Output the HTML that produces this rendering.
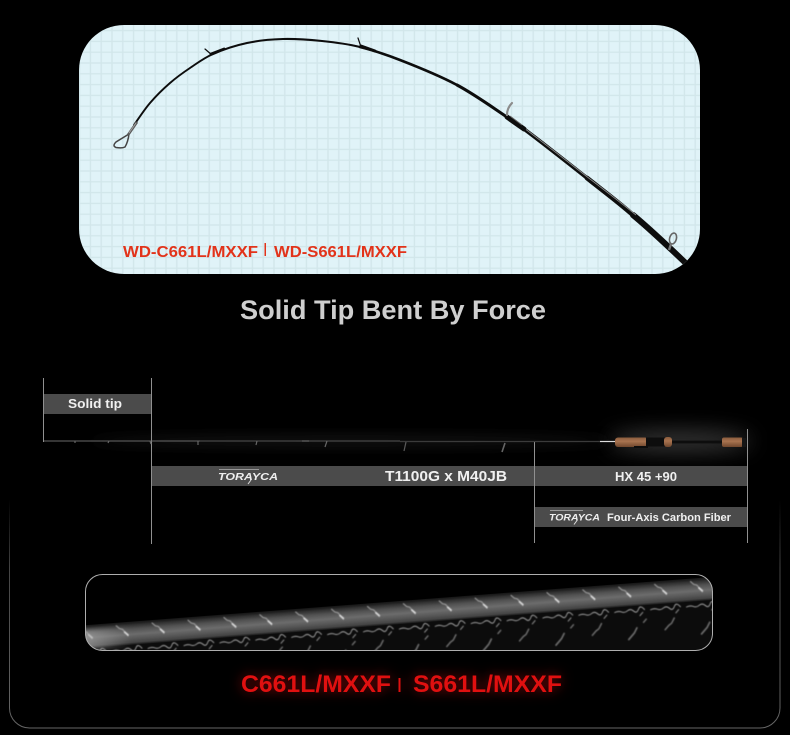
<!DOCTYPE html>
<html lang="en">
<head>
<meta charset="utf-8">
<title>Solid Tip Bent By Force</title>
<style>
html,body{margin:0;padding:0;background:#000;width:790px;height:735px;overflow:hidden}
svg{display:block}
text{font-family:"Liberation Sans",Arial,sans-serif;font-weight:700}
</style>
</head>
<body>
<svg width="790" height="735" viewBox="0 0 790 735" xmlns="http://www.w3.org/2000/svg">
<defs>
  <pattern id="grid" x="85" y="36" width="10.8" height="10.8" patternUnits="userSpaceOnUse">
    <rect width="10.8" height="10.8" fill="#e0f3f8"/>
    <path d="M5.4 0V10.8M0 5.4H10.8" stroke="#d1e6ea" stroke-width="1.3" fill="none"/>
  </pattern>
  <clipPath id="panelClip"><rect x="79" y="25" width="621" height="249" rx="45"/></clipPath>
  <clipPath id="bandClip"><rect x="85.5" y="574.5" width="627" height="76" rx="17"/></clipPath>
  <filter id="b03" x="-5%" y="-20%" width="110%" height="140%"><feGaussianBlur stdDeviation="0.35"/></filter>
  <filter id="b05" x="-5%" y="-20%" width="110%" height="140%"><feGaussianBlur stdDeviation="0.55"/></filter>
  <filter id="b1" x="-20%" y="-30%" width="140%" height="160%"><feGaussianBlur stdDeviation="2"/></filter>
  <filter id="b12" x="-40%" y="-300%" width="180%" height="700%"><feGaussianBlur stdDeviation="11"/></filter>
  <filter id="b6" x="-10%" y="-400%" width="120%" height="900%"><feGaussianBlur stdDeviation="6"/></filter>
  <linearGradient id="frameG" gradientUnits="userSpaceOnUse" x1="0" y1="500" x2="0" y2="728">
    <stop offset="0" stop-color="#444" stop-opacity="0"/>
    <stop offset=".3" stop-color="#444"/>
    <stop offset="1" stop-color="#666"/>
  </linearGradient>
  <linearGradient id="lightBand" x1="0" y1="0" x2="0" y2="1">
    <stop offset="0" stop-color="#141414"/>
    <stop offset=".3" stop-color="#4f4f4f"/>
    <stop offset=".55" stop-color="#6c6c6c"/>
    <stop offset=".9" stop-color="#454545"/>
    <stop offset="1" stop-color="#161616"/>
  </linearGradient>
  <linearGradient id="leftFade" x1="0" y1="0" x2="1" y2="0">
    <stop offset="0" stop-color="#aaa" stop-opacity=".8"/>
    <stop offset="1" stop-color="#aaa" stop-opacity="0"/>
  </linearGradient>
  <linearGradient id="cork" x1="0" y1="0" x2="0" y2="1">
    <stop offset="0" stop-color="#8a5c3d"/>
    <stop offset=".4" stop-color="#a87350"/>
    <stop offset="1" stop-color="#70472c"/>
  </linearGradient>
  <pattern id="weave" x="0" y="601" width="36" height="60" patternUnits="userSpaceOnUse">
    <g fill="none" stroke-linecap="round">
      <path d="M8 3l3 3 3 1 3 4 2 3" stroke="#9c9c9c" stroke-width="1.1"/>
      <path d="M16 10l3 3" stroke="#d8d8d8" stroke-width="1.8"/>
      <path d="M2 28q4-1.5 7 0t6-.8 6 .8 5-1.5 6 .8" stroke="#a8a8a8" stroke-width=".9"/>
      <path d="M27 33l3-3" stroke="#8a8a8a" stroke-width="1.1"/>
    </g>
  </pattern>
  <pattern id="weave2" x="0" y="601" width="73" height="60" patternUnits="userSpaceOnUse">
    <g fill="none" stroke-linecap="round" stroke="#6c6c6c">
      <path d="M6 49l4-4 3-2 3-5" stroke-width="1.5"/>
      <path d="M42 56l4-4 2-2 3-5" stroke-width="1.7"/>
      <path d="M58 40l3-3" stroke-width="1.4"/>
    </g>
  </pattern>
</defs>

<!-- outer frame -->
<path d="M9.5 500V708a20 20 0 0 0 20 20H760a20 20 0 0 0 20-20V500" fill="none" stroke="url(#frameG)"/>

<!-- bent rod panel -->
<rect x="79" y="25" width="621" height="249" rx="45" fill="url(#grid)"/>
<g clip-path="url(#panelClip)">
  <g fill="none" stroke="#0a0a0a" stroke-linecap="round" filter="url(#b03)">
    <path d="M134 125C136.7 121.3 144 110 150 103C156 96 163.3 88.8 170 83C176.7 77.2 182.8 72.8 190 68C197.2 63.2 203.5 58.2 213 54" stroke-width="1.9"/>
    <path d="M213 54C222.5 49.8 235.3 45.5 247 43C258.7 40.5 270.5 39.3 283 39C295.5 38.7 309.2 39.7 322 41C334.8 42.3 347 43.8 360 47" stroke-width="2.1"/>
    <path d="M360 47C373 50.2 383.8 53.7 400 60C416.2 66.3 439.2 75.5 457 85" stroke-width="2.6"/>
    <path d="M457 85C474.8 94.5 496 109.8 507 117" stroke-width="3"/>
    <path d="M507 117L524 129" stroke-width="5"/>
    <path d="M524 129C536.3 138.2 568.7 163.5 587 178" stroke-width="3.8"/>
    <path d="M587 178C605.3 192.5 617 201 633 215" stroke-width="4.8"/>
    <path d="M633 215C650 229 668 246 695 272" stroke-width="6"/>
    <path d="M205 49L212 55M358 38L361 47" stroke-width="1.2"/>
    <path d="M211 54L224 49M361 46L375 51" stroke-width="2.8"/>
  </g>
  <path d="M526 129.5C540 140 572 165 590 179C607 192 620 202 636 215" fill="none" stroke="#8a8a8a" stroke-width=".9" filter="url(#b03)"/>
  <path d="M510 116L522 125" fill="none" stroke="#666" stroke-width="1" filter="url(#b03)"/>
  <!-- tip top -->
  <g fill="none" filter="url(#b03)">
    <path d="M129 134L116 142Q112 146 116 147.5Q122 148.5 125 147Q128 142 129 134Z" stroke="#444" stroke-width="1.5"/>
    <path d="M128 135L137 122" stroke="#5a5a5a" stroke-width="2.6"/>
    <path d="M129 133L136 123" stroke="#aaa" stroke-width=".8"/>
    <!-- mid guide -->
    <path d="M512 103Q507 108 507 115" stroke="#8c8c8c" stroke-width="2.2" stroke-linecap="round"/>
    <!-- butt guide -->
    <ellipse cx="673" cy="238.5" rx="3.4" ry="5.6" transform="rotate(15 673 238.5)" stroke="#666" stroke-width="1.6"/>
    <path d="M671 244L669 250" stroke="#777" stroke-width="2.4"/>
  </g>
</g>
<text x="123" y="257" font-size="16" fill="#e2331a" textLength="135" lengthAdjust="spacingAndGlyphs">WD-C661L/MXXF</text>
<rect x="264.5" y="243" width="1.5" height="13" fill="#e2331a"/>
<text x="274" y="257" font-size="16" fill="#e2331a" textLength="133" lengthAdjust="spacingAndGlyphs">WD-S661L/MXXF</text>

<text x="393" y="319" font-size="26.5" fill="#cfcfcf" text-anchor="middle" textLength="306" lengthAdjust="spacingAndGlyphs">Solid Tip Bent By Force</text>

<!-- straight rod glow -->
<ellipse cx="680" cy="441" rx="72" ry="10" fill="#6a6a6a" opacity=".55" filter="url(#b12)"/>
<ellipse cx="350" cy="441" rx="260" ry="5" fill="#2c2c2c" opacity=".5" filter="url(#b6)"/>

<!-- bars -->
<rect x="44" y="394" width="107" height="20" fill="#4b4b4b"/>
<rect x="152" y="466" width="595" height="20" fill="#4b4b4b"/>
<rect x="535" y="507" width="212" height="20" fill="#4b4b4b"/>

<!-- vertical rules -->
<g stroke="#909090" stroke-width="1">
  <path d="M43.5 378V442"/>
  <path d="M151.5 378V544"/>
  <path d="M534.5 442V543"/>
  <path d="M747.5 429V543"/>
</g>

<!-- straight rod -->
<g filter="url(#b03)" fill="none">
  <path d="M44 441H200" stroke="#6a6a6a" stroke-width=".9"/>
  <path d="M200 441H400" stroke="#555" stroke-width="1"/>
  <path d="M400 441.5H600" stroke="#3a3a3a" stroke-width="1.2"/>
  <path d="M600 441.5H615" stroke="#ddd" stroke-width="1.2"/>
  <path d="M671 442H722" stroke="#0c0c0c" stroke-width="2.4"/>
  <path d="M75 441l0 2M109 441l-1 2M150 441l1 3M198 441v4M257 441l-1 4M327 441l-2 6M302 441h7" stroke="#666" stroke-width="1.2"/>
  <path d="M406 442l-2 9" stroke="#5a5a5a" stroke-width="1.2"/>
  <path d="M505 443l-3 9" stroke="#666" stroke-width="1.6"/>
</g>
<g filter="url(#b03)">
  <rect x="615" y="437.5" width="33" height="9.5" rx="3" fill="url(#cork)"/>
  <rect x="646" y="437.5" width="20" height="9" fill="#0e0e0e"/>
  <rect x="634" y="446" width="14" height="2" fill="#0e0e0e"/>
  <rect x="664" y="437" width="8" height="10" rx="3" fill="url(#cork)"/>
  <rect x="722" y="437.5" width="21" height="9.5" rx="2" fill="url(#cork)"/>
  <rect x="742" y="438" width="4" height="9" fill="#181818"/>
</g>

<!-- bar labels -->
<text x="95" y="408" font-size="13" fill="#f0f0f0" text-anchor="middle" textLength="54" lengthAdjust="spacingAndGlyphs">Solid tip</text>
<g fill="#eee">
  <rect x="219" y="469" width="40" height="1" fill="#999"/>
  <text x="218" y="480" font-size="10.5" font-style="italic" textLength="60" lengthAdjust="spacingAndGlyphs">TORAYCA</text>
  <path d="M251 480l-3 4" stroke="#ddd" stroke-width="1"/>
  <rect x="550" y="510" width="33" height="1" fill="#999"/>
  <text x="549" y="520.5" font-size="9.5" font-style="italic" textLength="51" lengthAdjust="spacingAndGlyphs">TORAYCA</text>
  <path d="M577 520.5l-3 4" stroke="#ddd" stroke-width="1"/>
</g>
<text x="446" y="481" font-size="15" fill="#f0f0f0" text-anchor="middle" textLength="122" lengthAdjust="spacingAndGlyphs">T1100G x M40JB</text>
<text x="646" y="481" font-size="12.5" fill="#f0f0f0" text-anchor="middle" textLength="62" lengthAdjust="spacingAndGlyphs">HX 45 +90</text>
<text x="607" y="521" font-size="11" fill="#f0f0f0" textLength="124" lengthAdjust="spacingAndGlyphs">Four-Axis Carbon Fiber</text>

<!-- carbon close-up -->
<g clip-path="url(#bandClip)">
  <rect x="85" y="574" width="628" height="77" fill="#000"/>
  <g transform="rotate(-4.4 400 612)">
    <rect x="50" y="623" width="700" height="50" fill="#0c0c0c"/>
    <rect x="50" y="601" width="700" height="23" fill="url(#lightBand)" filter="url(#b03)"/>
    <rect x="50" y="601" width="700" height="60" fill="url(#weave)" filter="url(#b05)"/>
    <rect x="50" y="601" width="700" height="60" fill="url(#weave2)" filter="url(#b05)"/>
    <rect x="70" y="606" width="60" height="20" fill="url(#leftFade)" filter="url(#b1)"/>
  </g>
</g>
<rect x="85.5" y="574.5" width="627" height="76" rx="17" fill="none" stroke="#aeaeae" stroke-width="1"/>

<!-- model labels -->
<g fill="#e01010" style="filter:drop-shadow(0 0 6px rgba(200,10,10,.7))">
  <text x="241" y="692" font-size="24" textLength="150" lengthAdjust="spacingAndGlyphs">C661L/MXXF</text>
  <rect x="398.5" y="678" width="2" height="14"/>
  <text x="413" y="692" font-size="24" textLength="149" lengthAdjust="spacingAndGlyphs">S661L/MXXF</text>
</g>
</svg>
</body>
</html>
